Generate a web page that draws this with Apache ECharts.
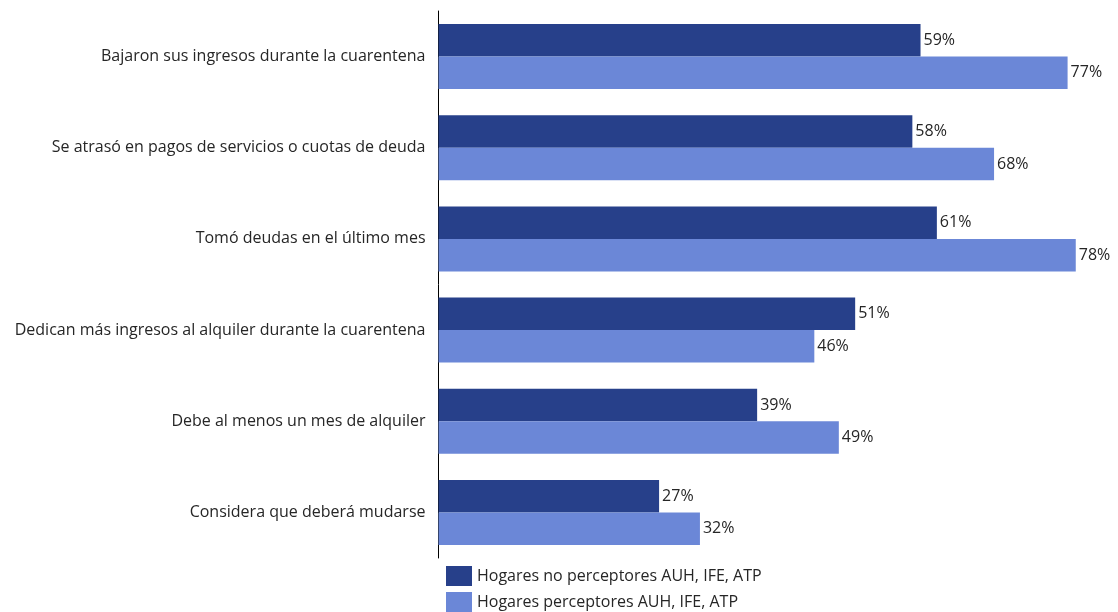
<!DOCTYPE html>
<html>
<head>
<meta charset="utf-8">
<script src="https://cdn.jsdelivr.net/npm/echarts@6/dist/echarts.min.js"></script>
<style>html,body{margin:0;padding:0;background:#fff;}#c{width:1118px;height:612px;}</style>
</head>
<body>
<div id="c"></div>
<script>
const categories = [
  "Bajaron sus ingresos durante la cuarentena",
  "Se atrasó en pagos de servicios o cuotas de deuda",
  "Tomó deudas en el último mes",
  "Dedican más ingresos al alquiler durante la cuarentena",
  "Debe al menos un mes de alquiler",
  "Considera que deberá mudarse"
];
const seriesNames = ["Hogares no perceptores AUH, IFE, ATP", "Hogares perceptores AUH, IFE, ATP"];
const noPerceptores = [59, 58, 61, 51, 39, 27];
const perceptores = [77, 68, 78, 46, 49, 32];

const FONT = "Open Sans";
const FS = 16;
const TXT = '#262626';
const chart = echarts.init(document.getElementById('c'), null, {renderer: 'canvas'});
const labelCfg = {
  show: true, position: 'right', distance: 3,
  formatter: p => p.value + '%',
  color: TXT, fontFamily: FONT, fontSize: FS
};
const legendBase = {
  orient: 'vertical', left: 446,
  itemWidth: 26, itemHeight: 20,
  icon: 'rect', padding: 0, itemGap: 6,
  textStyle: {color: TXT, fontFamily: FONT, fontSize: FS}
};
chart.setOption({
  animation: false,
  textStyle: {fontFamily: FONT},
  grid: {left: 438.5, top: 11, right: 0, height: 547, containLabel: false},
  xAxis: {
    type: 'value', min: 0, max: 83.17, show: false
  },
  yAxis: {
    type: 'category', data: categories, inverse: true,
    axisLine: {show: true, lineStyle: {color: '#000', width: 1}},
    axisTick: {show: false},
    axisLabel: {color: TXT, fontFamily: FONT, fontSize: FS, margin: 13}
  },
  legend: [
    Object.assign({}, legendBase, {top: 566, data: [seriesNames[0]]}),
    Object.assign({}, legendBase, {top: 592, data: [seriesNames[1]]})
  ],
  series: [
    {name: seriesNames[0], type: 'bar', data: noPerceptores, barWidth: 32.5, barGap: '0%',
     itemStyle: {color: '#27408a'}, label: labelCfg},
    {name: seriesNames[1], type: 'bar', data: perceptores, barWidth: 32.5, barGap: '0%',
     itemStyle: {color: '#6b87d7'}, label: labelCfg}
  ]
});
</script>
</body>
</html>
